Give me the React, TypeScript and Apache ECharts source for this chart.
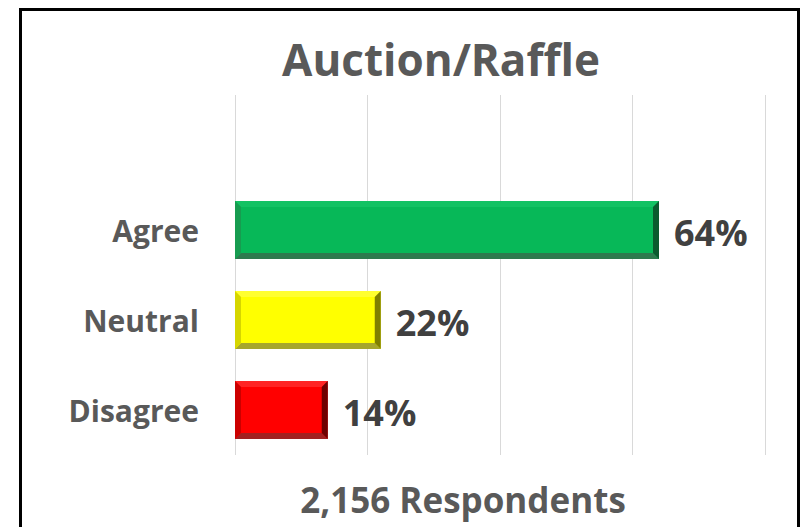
import React, { useEffect, useRef } from "react";
import * as echarts from "echarts";

const categories = ["Disagree", "Neutral", "Agree"];
const values = [14, 22, 64];
const titleText = "Auction/Raffle";
const footerText = "2,156 Respondents";
const axisMax = 80;
const axisInterval = 20;

// per-bar bevel palettes: [face, top, left, right, bottom]
const palettes = [
  ["#ff0000", "#ff2424", "#cc0000", "#6e0000", "#a22020"],
  ["#ffff00", "#ffff30", "#d6d600", "#7f7f00", "#a6a62c"],
  ["#07b858", "#12c263", "#179c50", "#0b5a2f", "#2d7a4e"],
];

export default function App() {
  const ref = useRef<HTMLDivElement>(null);
  useEffect(() => {
    if (!ref.current) return;
    const chart = echarts.init(ref.current, null, { renderer: "svg" });
    const font = "'Open Sans', sans-serif";
    chart.setOption({
      animation: false,
      backgroundColor: "#ffffff",
      grid: { left: 235, right: 35, top: 95, bottom: 72, containLabel: false },
      xAxis: {
        type: "value",
        min: 0,
        max: axisMax,
        interval: axisInterval,
        axisLabel: { show: false },
        axisLine: { show: false },
        axisTick: { show: false },
        splitLine: { show: true, lineStyle: { color: "#d9d9d9", width: 1 } },
      },
      yAxis: {
        type: "category",
        data: [...categories, ""],
        axisLine: { show: false },
        axisTick: { show: false },
        axisLabel: {
          margin: 36,
          fontSize: 30,
          fontWeight: "bold",
          color: "#595959",
          fontFamily: font,
        },
      },
      series: [
        {
          type: "custom",
          data: values.map((v, i) => [v, i]),
          encode: { x: 0, y: 1 },
          renderItem: (params: any, api: any) => {
            const v = api.value(0);
            const c = api.value(1);
            const s = api.coord([0, c]);
            const e = api.coord([v, c]);
            const band = api.size([0, 1])[1];
            const h = band * 0.645;
            const x0 = s[0];
            const x1 = e[0];
            const y0 = s[1] - h / 2;
            const y1 = s[1] + h / 2;
            const b = 6;
            const p = palettes[params.dataIndex];
            const poly = (pts: number[][], fill: string) => ({
              type: "polygon",
              shape: { points: pts },
              style: { fill },
            });
            return {
              type: "group",
              children: [
                {
                  type: "rect",
                  shape: { x: x0, y: y0, width: x1 - x0, height: y1 - y0 },
                  style: { fill: p[0] },
                },
                poly([[x0, y0], [x1, y0], [x1 - b, y0 + b], [x0 + b, y0 + b]], p[1]),
                poly([[x0, y1], [x1, y1], [x1 - b, y1 - b], [x0 + b, y1 - b]], p[4]),
                poly([[x0, y0], [x0 + b, y0 + b], [x0 + b, y1 - b], [x0, y1]], p[2]),
                poly([[x1, y0], [x1 - b, y0 + b], [x1 - b, y1 - b], [x1, y1]], p[3]),
                {
                  type: "text",
                  style: {
                    x: x1 + 15,
                    y: s[1] + 2,
                    text: v + "%",
                    fill: "#404040",
                    fontSize: 36,
                    fontWeight: "bold",
                    fontFamily: font,
                    align: "left",
                    verticalAlign: "middle",
                  },
                },
              ],
            };
          },
        },
      ],
      graphic: [
        {
          type: "rect",
          shape: { x: 20.5, y: 9.5, width: 778, height: 600 },
          style: { fill: "none", stroke: "#000000", lineWidth: 3 },
          silent: true,
        },
        {
          type: "text",
          x: 441,
          y: 59,
          style: {
            text: titleText,
            fontSize: 44,
            fontWeight: "bold",
            fill: "#595959",
            fontFamily: font,
            align: "center",
            verticalAlign: "middle",
          },
        },
        {
          type: "text",
          x: 463,
          y: 499,
          style: {
            text: footerText,
            fontSize: 35,
            fontWeight: "bold",
            fill: "#595959",
            fontFamily: font,
            align: "center",
            verticalAlign: "middle",
          },
        },
      ],
    });
    return () => chart.dispose();
  }, []);
  return (
    <div
      ref={ref}
      style={{ position: "fixed", left: 0, top: 0, width: 800, height: 527 }}
    />
  );
}
